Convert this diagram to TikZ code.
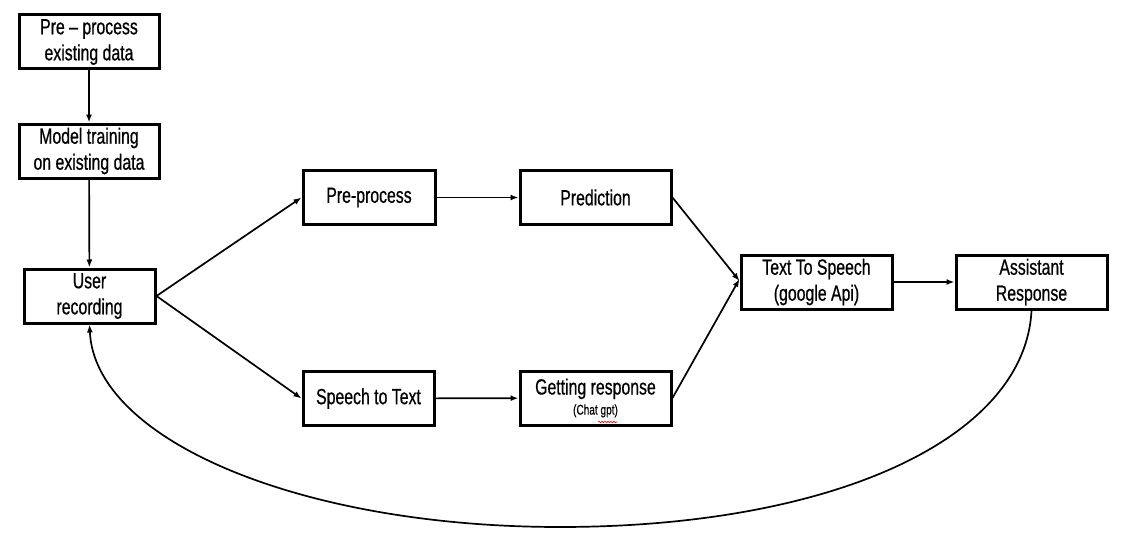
\documentclass[tikz,border=0pt]{standalone}
\usepackage{fontspec}
\setmainfont[FakeStretch=0.72,FakeBold=0.6]{Liberation Sans}
\usetikzlibrary{arrows.meta,decorations.pathmorphing}
\begin{document}
\begin{tikzpicture}[x=1pt,y=-1pt,
  box/.style={draw=black,line width=3pt,minimum width=#1,minimum height=54pt,inner sep=0pt,align=center,
     font=\fontsize{22}{26}\selectfont},
  box/.default=133pt,
  conn/.style={line width=1.7pt,-{Latex[length=8pt,width=6pt]}}]
\useasboundingbox (0,0) rectangle (1143,535);
\node[box=140pt] (A) at (89,42) {Pre -- process\\existing data};
\node[box=140pt] (B) at (89,151) {Model training\\on existing data};
\node[box=131pt] (C) at (89.5,296) {User\\recording};
\node[box=132pt] (D) at (369,197.5) {Pre-process};
\node[box=151pt] (E) at (595.5,197.5) {Prediction};
\node[box=131pt] (F) at (368.5,398.5) {Speech to Text};
\node[box=151pt] (G) at (595.5,398) {Getting response\\[-6pt]{\fontsize{14}{16}\selectfont (Chat gpt)}};
\node[box=151pt] (H) at (816.5,282) {Text To Speech\\(google Api)};
\node[box=151pt] (I) at (1031.5,282) {Assistant\\Response};
\coordinate (gpt1) at (598,422);
\coordinate (gpt2) at (617,422);
\draw[red,line width=0.6pt,decorate,decoration={snake,amplitude=0.8pt,segment length=3pt}] (gpt1) -- (gpt2);
\draw[conn] (A) -- (B);
\draw[conn] (B) -- (C);
\draw[conn] (C.east) -- (D.west);
\draw[conn] (C.east) -- (F.west);
\draw[conn] (D) -- (E);
\draw[conn] (F) -- (G);
\draw[conn] (E.east) -- ([yshift=1pt]H.west);
\draw[conn] (G.east) -- ([yshift=3pt]H.west);
\draw[conn] (H) -- (I);
\coordinate (low) at (560,527);
\draw[conn] (I.south) .. controls (1025,440) and (830,527) .. (low)
   .. controls (300,527) and (95,440) .. (C.south);
\end{tikzpicture}
\end{document}
